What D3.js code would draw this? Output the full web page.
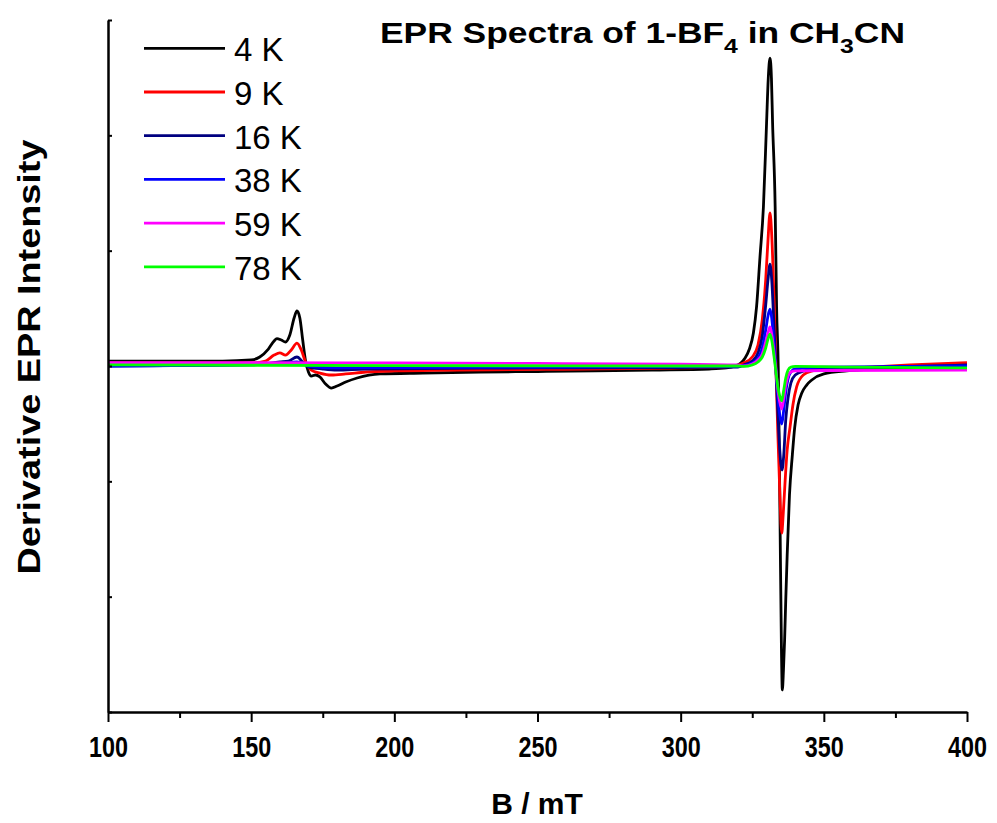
<!DOCTYPE html>
<html>
<head>
<meta charset="utf-8">
<script src="https://cdn.jsdelivr.net/npm/d3@7"></script>
<style>
  body { margin: 0; background: #fff; }
  svg { font-family: "Liberation Sans", Arial, sans-serif; }
</style>
</head>
<body>
<svg width="997" height="823"></svg>
<script>
// spectra: [B (mT), derivative intensity (a.u.)]
var spec4K = [[100, 43], [120, 43], [140, 43], [150, 52], [153, 78], [156, 147], [158, 217], [159, 238],
  [160.5, 225], [162, 208], [163.5, 269], [165, 416], [166, 477], [167, 416], [168, 225], [169, 43],
  [170, -52], [171, -87], [172.5, -78], [174, -95], [176, -156], [178, -191], [180, -173], [183, -139],
  [187, -104], [195, -69], [210, -61], [230, -52], [250, -48], [270, -43], [290, -35], [310, -26],
  [316, -17], [319, 0], [321, 26], [322.5, 69], [324, 147], [325.4, 286], [326.5, 512], [327.7, 945],
  [328.9, 1379], [330, 2107], [330.6, 2497], [331.2, 2670], [331.7, 2497], [332.1, 2107], [333, 1379],
  [333.5, 512], [334.1, -35], [334.7, -1335], [335.2, -2462], [335.5, -2809], [335.9, -2636],
  [336.3, -2376], [336.7, -2029], [337.2, -1639], [338, -1118], [339, -772], [339.8, -538], [341, -338],
  [342.3, -234], [344, -165], [345.8, -121], [350, -69], [358, -43], [370, -26], [385, -9], [400, 9]];

var spec9K = [[100, 26], [150, 26], [155, 43], [158, 95], [160, 113], [162, 95], [164, 139], [166, 199],
  [167.5, 139], [169, 35], [171, -35], [174, -61], [178, -78], [183, -69], [190, -52], [200, -43],
  [250, -30], [300, -17], [318, -4], [322, 26], [325, 78], [327, 182], [328.5, 399], [329.7, 746],
  [330.5, 1092], [331.2, 1327], [331.8, 1136], [332.5, 659], [333.2, 52], [333.9, -555], [334.6, -1075],
  [335.3, -1448], [335.8, -1292], [336.5, -988], [337.2, -728], [338.2, -529], [339.2, -338],
  [340.5, -182], [342.8, -78], [346, -43], [350, -30], [360, -17], [380, 9], [400, 30]];

var spec16K = [[100, 0], [150, 9], [160, 35], [163, 43], [166, 78], [168, 35], [170, -9], [175, -26],
  [180, -35], [190, -26], [250, -17], [300, -13], [320, -9], [322, 9], [325, 43], [327, 113], [328.5, 260],
  [329.7, 529], [330.5, 746], [331.2, 884], [331.8, 746], [332.5, 399], [333.2, 9], [333.9, -381],
  [334.6, -728], [335.4, -902], [336, -772], [336.7, -468], [337.5, -277], [338.5, -147], [340, -78],
  [343, -43], [350, -17], [370, -9], [400, 9]];

var spec38K = [[100, 0], [160, 17], [166, 35], [170, 0], [180, -17], [250, -9], [320, -4], [322, 4],
  [325, 26], [327, 69], [328.5, 156], [329.7, 312], [330.5, 434], [331.2, 494], [331.8, 416], [332.5, 225],
  [333.2, 0], [333.9, -251], [334.6, -425], [335.3, -503], [336, -381], [336.7, -225], [337.5, -113],
  [338.5, -52], [340, -26], [350, -9], [400, 0]];

var spec59K = [[100, 30], [150, 30], [200, 26], [250, 22], [300, 17], [320, 9], [322, 0], [325, 17],
  [327, 52], [328.5, 104], [329.7, 208], [330.5, 286], [331.2, 338], [331.8, 277], [332.5, 139],
  [333.2, -17], [333.9, -191], [334.6, -312], [335.3, -373], [336, -277], [336.7, -165], [337.5, -87],
  [338.5, -52], [340, -43], [350, -39], [400, -35]];

var spec78K = [[100, 9], [200, 4], [300, 0], [320, 0], [322, -4], [325, 9], [327, 35], [328.5, 78],
  [329.7, 156], [330.5, 234], [331.2, 277], [331.8, 225], [332.5, 104], [333.2, -35], [333.9, -173],
  [334.6, -260], [335.3, -303], [336, -208], [336.7, -104], [337.5, -35], [338.5, -9], [340, -4],
  [360, -9], [400, -17]];

var series = [spec4K, spec9K, spec16K, spec38K, spec59K, spec78K];
var labels = ["4 K", "9 K", "16 K", "38 K", "59 K", "78 K"];
var colors = ["#000000", "#ff0000", "#000080", "#0000ff", "#ff00ff", "#00ff00"];

var xTicks = [100, 150, 200, 250, 300, 350, 400];
var xMinor = [125, 175, 225, 275, 325, 375];
var yTicks = [-3000, -2000, -1000, 0, 1000, 2000, 3000];

var svg = d3.select("svg");

var x = d3.scaleLinear().domain([100, 400]).range([108, 967]);
var y = d3.scaleLinear().domain([-3000, 3000]).range([712, 20]);

// spectra
var line = d3.line()
  .x((d) => x(d[0]))
  .y((d) => y(d[1]))
  .curve(d3.curveMonotoneX);

svg.append("g")
  .attr("class", "spectra")
  .selectAll("path")
  .data(series)
  .enter()
  .append("path")
  .attr("d", line)
  .attr("fill", "none")
  .attr("stroke", (d, i) => colors[i])
  .attr("stroke-width", 2.8)
  .attr("stroke-linejoin", "round");

// x axis, major + minor ticks
var xAxis = svg.append("g")
  .attr("transform", "translate(0,712)")
  .call(d3.axisBottom(x).tickValues(xTicks).tickSize(10).tickSizeOuter(0));

svg.append("g")
  .attr("transform", "translate(0,712)")
  .call(d3.axisBottom(x).tickValues(xMinor).tickSize(6).tickSizeOuter(0).tickFormat(""))
  .select(".domain").remove();

// tick labels are tall and narrow in the original
xAxis.selectAll("text")
  .attr("y", 45)
  .attr("dy", 0)
  .attr("font-family", "'Liberation Sans', Arial, sans-serif")
  .attr("font-weight", "bold")
  .attr("font-size", 30)
  .attr("textLength", 39)
  .attr("lengthAdjust", "spacingAndGlyphs")
  .attr("fill", "#000");

// y axis, ticks inside, no labels
svg.append("g")
  .attr("transform", "translate(108,0)")
  .call(d3.axisRight(y).tickValues(yTicks).tickSize(4).tickSizeOuter(0).tickFormat(""));

svg.selectAll(".domain").attr("stroke-width", 2.5).attr("stroke", "#000");
svg.selectAll(".tick line").attr("stroke-width", 2).attr("stroke", "#000");

// axis titles
svg.append("text")
  .attr("x", 537)
  .attr("y", 814)
  .attr("text-anchor", "middle")
  .attr("font-weight", "bold")
  .attr("font-size", 30)
  .text("B / mT");

svg.append("text")
  .attr("transform", "translate(40,357) rotate(-90)")
  .attr("text-anchor", "middle")
  .attr("font-weight", "bold")
  .attr("font-size", 31)
  .attr("textLength", 435)
  .attr("lengthAdjust", "spacingAndGlyphs")
  .text("Derivative EPR Intensity");

// title with subscripts, slightly wide lettering
var title = svg.append("text")
  .attr("transform", "translate(380,43) scale(1.18,1)")
  .attr("font-weight", "bold")
  .attr("font-size", 30);
title.append("tspan").text("EPR Spectra of 1-BF");
title.append("tspan").attr("dy", 10).attr("font-size", 21).text("4");
title.append("tspan").attr("dy", -10).text(" in CH");
title.append("tspan").attr("dy", 10).attr("font-size", 21).text("3");
title.append("tspan").attr("dy", -10).text("CN");

// legend
var legend = svg.append("g")
  .selectAll("g")
  .data(labels)
  .enter()
  .append("g")
  .attr("transform", (d, i) => "translate(0," + (48.3 + i * 43.7) + ")");

legend.append("line")
  .attr("x1", 144)
  .attr("x2", 225)
  .attr("stroke", (d, i) => colors[i])
  .attr("stroke-width", 2.8);

legend.append("text")
  .attr("x", 234)
  .attr("y", 13)
  .attr("font-size", 33)
  .text((d) => d);
</script>
</body>
</html>
